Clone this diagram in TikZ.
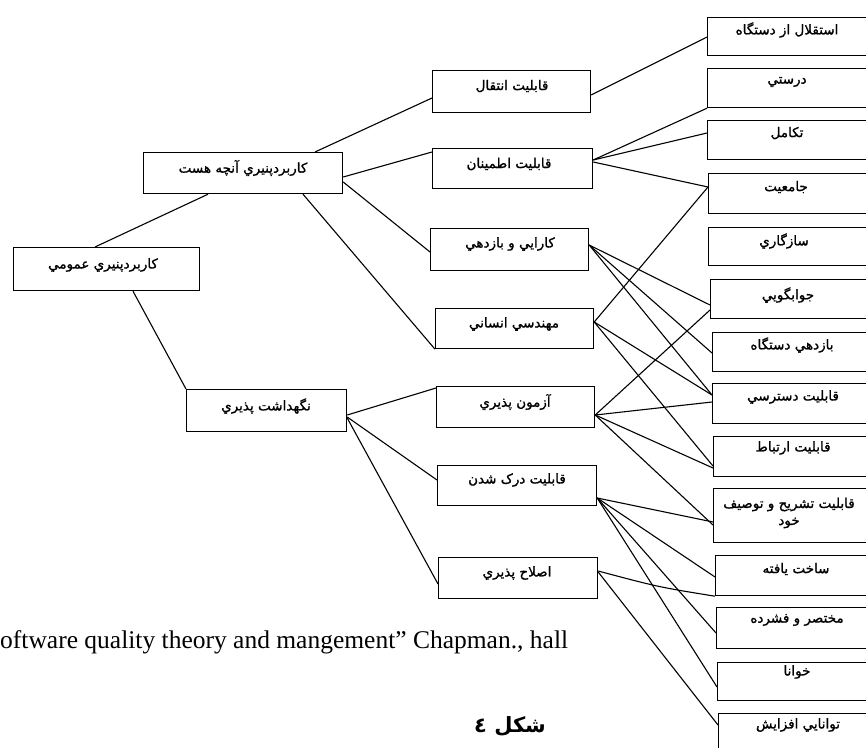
\documentclass[tikz,border=0pt]{standalone}
\usepackage{fontspec}
\setmainfont{Liberation Serif}
\newfontfamily\arfont[Script=Arabic, FakeBold=1.2]{DejaVu Sans}
\newfontfamily\arbold[Script=Arabic]{DejaVu Sans Bold}
\TeXXeTstate=1
\newcommand\fa[1]{{\arfont\beginR #1\endR}}
\begin{document}
\begin{tikzpicture}[x=1pt,y=-1pt,
  box/.style={draw, line width=1.2pt, rectangle, inner sep=0pt, anchor=north west},
  lab/.style={font=\arfont\fontsize{13.5}{17}\selectfont, inner sep=0pt, align=center},
  figcap/.style={inner sep=0pt, font=\arbold\fontsize{21}{24}\selectfont},
  link/.style={line width=1.1pt}]
\useasboundingbox (0,0) rectangle (866,747);
\clip (0,0) rectangle (866,747);
% left column
\node[box, minimum width=186pt, minimum height=43pt] (A) at (13,247) {};
\node[box, minimum width=199pt, minimum height=41pt] (B) at (143,152) {};
\node[box, minimum width=160pt, minimum height=42pt] (C) at (186,389) {};
% middle column
\node[box, minimum width=158pt, minimum height=42pt] (D) at (432,70) {};
\node[box, minimum width=160pt, minimum height=40pt] (E) at (432,148) {};
\node[box, minimum width=158pt, minimum height=42pt] (F) at (430,228) {};
\node[box, minimum width=158pt, minimum height=40pt] (G) at (435,308) {};
\node[box, minimum width=158pt, minimum height=41pt] (H) at (436,386) {};
\node[box, minimum width=159pt, minimum height=40pt] (I) at (437,465) {};
\node[box, minimum width=159pt, minimum height=41pt] (J) at (438,557) {};
% right column
\node[box, minimum width=178pt, minimum height=38pt] (K) at (707,17) {};
\node[box, minimum width=178pt, minimum height=39pt] (L) at (707,68) {};
\node[box, minimum width=178pt, minimum height=39pt] (M) at (707,120) {};
\node[box, minimum width=177pt, minimum height=40pt] (N) at (708,173) {};
\node[box, minimum width=177pt, minimum height=38pt] (O) at (708,227) {};
\node[box, minimum width=175pt, minimum height=39pt] (P) at (710,279) {};
\node[box, minimum width=173pt, minimum height=39pt] (Q) at (712,332) {};
\node[box, minimum width=173pt, minimum height=40pt] (R) at (712,383) {};
\node[box, minimum width=172pt, minimum height=40pt] (S) at (713,436) {};
\node[box, minimum width=172pt, minimum height=54pt] (T) at (713,488) {};
\node[box, minimum width=170pt, minimum height=40pt] (U) at (715,555) {};
\node[box, minimum width=169pt, minimum height=41pt] (V) at (716,607) {};
\node[box, minimum width=168pt, minimum height=38pt] (W) at (717,662) {};
\node[box, minimum width=167pt, minimum height=40pt] (X) at (718,713) {};
% labels
\node[lab] (At) at ([xshift=90pt,yshift=-18pt]A.north west) {\fa{کاربردپنيري عمومي}};
\node[lab] (Bt) at ([xshift=100pt,yshift=-16pt]B.north west) {\fa{کاربردپنيري آنچه هست}};
\node[lab] (Ct) at ([xshift=80pt,yshift=-17pt]C.north west) {\fa{نگهداشت پذيري}};
\node[lab] (Dt) at ([xshift=80pt,yshift=-16pt]D.north west) {\fa{قابليت انتقال}};
\node[lab] (Et) at ([xshift=77pt,yshift=-16pt]E.north west) {\fa{قابليت اطمينان}};
\node[lab] (Ft) at ([xshift=80pt,yshift=-16pt]F.north west) {\fa{کارايي و بازدهي}};
\node[lab] (Gt) at ([xshift=79pt,yshift=-16pt]G.north west) {\fa{مهندسي انساني}};
\node[lab] (Ht) at ([xshift=79pt,yshift=-16pt]H.north west) {\fa{آزمون پذيري}};
\node[lab] (It) at ([xshift=80pt,yshift=-15pt]I.north west) {\fa{قابليت درک شدن}};
\node[lab] (Jt) at ([xshift=79pt,yshift=-16pt]J.north west) {\fa{اصلاح پذيري}};
\node[lab] (Kt) at ([xshift=80pt,yshift=-13pt]K.north west) {\fa{استقلال از دستگاه}};
\node[lab] (Lt) at ([xshift=80pt,yshift=-14pt]L.north west) {\fa{درستي}};
\node[lab] (Mt) at ([xshift=80pt,yshift=-13pt]M.north west) {\fa{تکامل}};
\node[lab] (Nt) at ([xshift=78pt,yshift=-14pt]N.north west) {\fa{جامعيت}};
\node[lab] (Ot) at ([xshift=76pt,yshift=-14pt]O.north west) {\fa{سازگاري}};
\node[lab] (Pt) at ([xshift=78pt,yshift=-16pt]P.north west) {\fa{جوابگويي}};
\node[lab] (Qt) at ([xshift=80pt,yshift=-13pt]Q.north west) {\fa{بازدهي دستگاه}};
\node[lab] (Rt) at ([xshift=81pt,yshift=-14pt]R.north west) {\fa{قابليت دسترسي}};
\node[lab] (St) at ([xshift=80pt,yshift=-12pt]S.north west) {\fa{قابليت ارتباط}};
\node[lab] (Tt) at ([xshift=76pt,yshift=-25pt]T.north west) {\fa{قابليت تشريح و توصيف}\\\fa{خود}};
\node[lab] (Ut) at ([xshift=81pt,yshift=-14pt]U.north west) {\fa{ساخت يافته}};
\node[lab] (Vt) at ([xshift=81pt,yshift=-13pt]V.north west) {\fa{مختصر و فشرده}};
\node[lab] (Wt) at ([xshift=80pt,yshift=-10pt]W.north west) {\fa{خوانا}};
\node[lab] (Xt) at ([xshift=80pt,yshift=-12pt]X.north west) {\fa{توانايي افزايش}};
% connectors left
\draw[link] ([xshift=82pt]A.north west) -- ([xshift=65pt]B.south west);
\draw[link] ([xshift=120pt]A.south west) -- (C.north west);
\draw[link] ([xshift=172pt]B.north west) -- ([yshift=-28pt]D.north west);
\draw[link] ([yshift=-25pt]B.north east) -- ([yshift=-4pt]E.north west);
\draw[link] ([yshift=-30pt]B.north east) -- ([yshift=-24pt]F.north west);
\draw[link] ([xshift=160pt]B.south west) -- (G.south west);
\draw[link] ([yshift=-26pt]C.north east) -- ([yshift=-2pt]H.north west);
\draw[link] ([yshift=-28pt]C.north east) -- ([yshift=-15pt]I.north west);
\draw[link] ([yshift=-29pt]C.north east) -- ([yshift=-27pt]J.north west);
% connectors middle to right
\draw[link] ([yshift=-25pt]D.north east) -- ([yshift=-20pt]K.north west);
\draw[link] ([yshift=-12pt]E.north east) -- (L.south west);
\draw[link] ([yshift=-12pt]E.north east) -- ([yshift=-13pt]M.north west);
\draw[link] ([yshift=-14pt]E.north east) -- ([yshift=-14pt]N.north west);
\draw[link] ([yshift=-17pt]F.north east) -- ([yshift=-26pt]P.north west);
\draw[link] ([yshift=-17pt]F.north east) -- ([yshift=-21pt]Q.north west);
\draw[link] ([yshift=-17pt]F.north east) -- ([yshift=-12pt]R.north west);
\draw[link] ([yshift=-14pt]G.north east) -- ([yshift=-14pt]N.north west);
\draw[link] ([yshift=-14pt]G.north east) -- ([yshift=-12pt]R.north west);
\draw[link] ([yshift=-14pt]G.north east) -- ([yshift=-30pt]S.north west);
\draw[link] ([yshift=-29pt]H.north east) -- ([yshift=-31pt]P.north west);
\draw[link] ([yshift=-29pt]H.north east) -- ([yshift=-19pt]R.north west);
\draw[link] ([yshift=-29pt]H.north east) -- ([yshift=-32pt]S.north west);
\draw[link] ([yshift=-29pt]H.north east) -- ([yshift=-37pt]T.north west);
\draw[link] ([yshift=-33pt]I.north east) -- ([yshift=-34pt]T.north west);
\draw[link] ([yshift=-33pt]I.north east) -- ([yshift=-22pt]U.north west);
\draw[link] ([yshift=-33pt]I.north east) -- ([yshift=-26pt]V.north west);
\draw[link] ([yshift=-33pt]I.north east) -- ([yshift=-25pt]W.north west);
\draw[link] ([yshift=-14pt]J.north east) .. controls ([xshift=60pt,yshift=-30pt]J.north east) .. (U.south west);
\draw[link] ([yshift=-15pt]J.north east) -- ([yshift=-12pt]X.north west);
% caption texts
\node[anchor=base west, inner sep=0pt, font=\fontsize{25.5}{28}\selectfont] (ref) at (0,648) {oftware quality theory and mangement'' Chapman., hall};
\node[figcap] (fig) at (510,726) {\beginR شکل ٤\endR};
\end{tikzpicture}
\end{document}
